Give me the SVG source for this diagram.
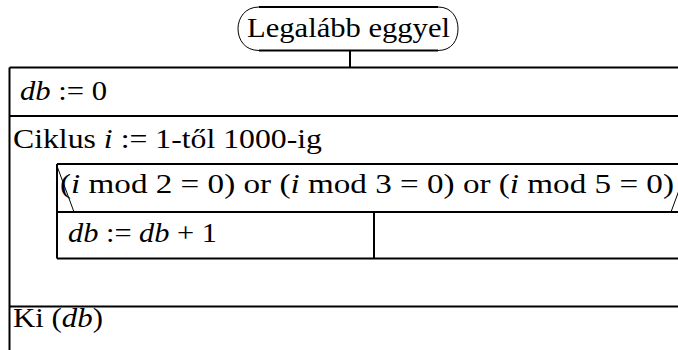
<svg xmlns="http://www.w3.org/2000/svg" width="678" height="350" viewBox="0 0 678 350">
<style>
.k{stroke:#000;stroke-width:2;fill:none}
.th{stroke:#000;stroke-width:1;fill:none}
</style>
<rect width="678" height="350" fill="#fff"/>
<g font-family="Liberation Serif, Times New Roman, serif" font-size="27" fill="#000">
<g id="start">
<line class="k" x1="259" y1="7" x2="438" y2="7"/>
<line class="k" x1="259" y1="50.5" x2="438" y2="50.5"/>
<path class="th" d="M259,7 C245,7 238,18 238,28.75 C238,40 245,50.5 259,50.5"/>
<path class="th" d="M438,7 C452,7 458,18 458,28.75 C458,40 452,50.5 438,50.5"/>
<text x="247" y="37" textLength="203" lengthAdjust="spacingAndGlyphs">Legalább eggyel</text>
</g>
<g id="connectors">
<line class="k" x1="350" y1="50.5" x2="350" y2="67.5"/>
</g>
<g id="outer">
<line class="k" x1="9.5" y1="67.5" x2="678" y2="67.5"/>
<line class="k" x1="9.5" y1="67.5" x2="9.5" y2="350"/>
<line class="k" x1="9.5" y1="116" x2="678" y2="116"/>
<line class="k" x1="9.5" y1="306.5" x2="678" y2="306.5"/>
</g>
<g id="assign1">
<text x="20" y="100" textLength="87" lengthAdjust="spacingAndGlyphs"><tspan font-style="italic">db</tspan> := 0</text>
</g>
<g id="loop">
<text x="13" y="148" textLength="309" lengthAdjust="spacingAndGlyphs">Ciklus <tspan font-style="italic">i</tspan> := 1-től 1000-ig</text>
</g>
<g id="branch">
<line class="k" x1="57" y1="164" x2="678" y2="164"/>
<line class="k" x1="57" y1="164" x2="57" y2="258.5"/>
<line class="k" x1="57" y1="212" x2="678" y2="212"/>
<line class="k" x1="57" y1="258.5" x2="678" y2="258.5"/>
<line class="k" x1="374" y1="212" x2="374" y2="258.5"/>
<line class="th" x1="57" y1="166" x2="74" y2="212"/>
<line class="th" x1="688" y1="166" x2="671" y2="212"/>
<text x="60" y="193" textLength="614" lengthAdjust="spacingAndGlyphs">(<tspan font-style="italic">i</tspan> mod 2 = 0) or (<tspan font-style="italic">i</tspan> mod 3 = 0) or (<tspan font-style="italic">i</tspan> mod 5 = 0)</text>
</g>
<g id="assign2">
<text x="68" y="242" textLength="149" lengthAdjust="spacingAndGlyphs"><tspan font-style="italic">db</tspan> := <tspan font-style="italic">db</tspan> + 1</text>
</g>
<g id="output">
<text x="13" y="327" textLength="90" lengthAdjust="spacingAndGlyphs">Ki (<tspan font-style="italic">db</tspan>)</text>
</g>
</g>
</svg>
